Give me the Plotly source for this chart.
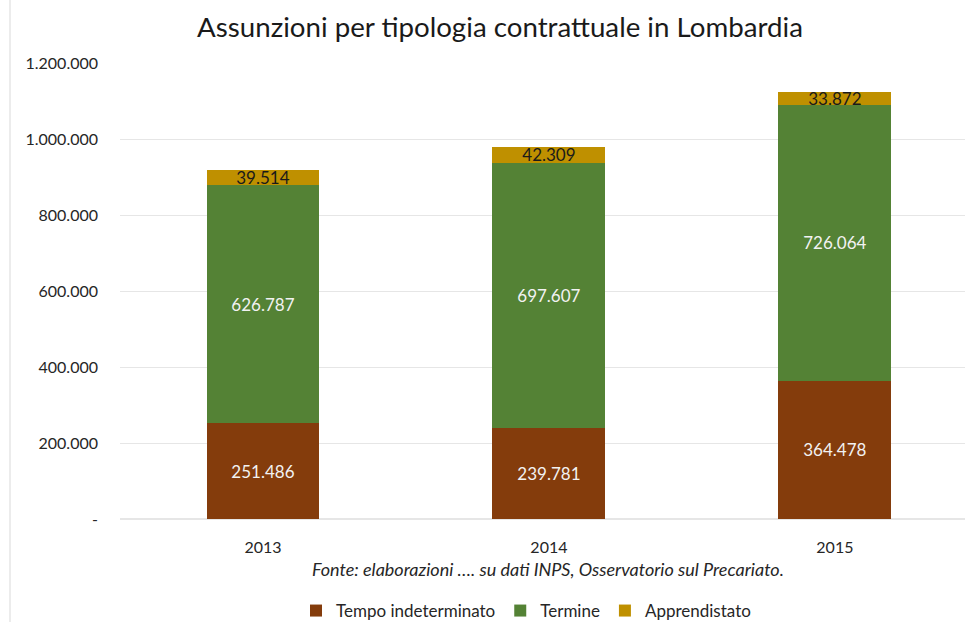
import plotly.graph_objects as go

years = ["2013", "2014", "2015"]
tempo_indeterminato = [251486, 239781, 364478]
termine = [626787, 697607, 726064]
apprendistato = [39514, 42309, 33872]

ytick_vals = [0, 200000, 400000, 600000, 800000, 1000000, 1200000]
ytick_text = ["-", "200.000", "400.000", "600.000", "800.000", "1.000.000", "1.200.000"]

FONT = "Lato"

series = [
    ("Tempo indeterminato", tempo_indeterminato, "#843C0C", "#F2F2F2"),
    ("Termine", termine, "#548235", "#F2F2F2"),
    ("Apprendistato", apprendistato, "#BF9000", "#1A1A1A"),
]

fig = go.Figure()
for name, vals, color, tcolor in series:
    fig.add_trace(go.Bar(
        name=name, x=years, y=vals,
        marker=dict(color=color, line=dict(width=0)),
        texttemplate="%{y:,}", textposition="inside",
        insidetextanchor="middle", constraintext="none",
        textfont=dict(family=FONT, size=17, color=tcolor),
        cliponaxis=False,
    ))

fig.update_layout(
    barmode="stack",
    bargap=0.605,
    width=965, height=622,
    margin=dict(l=120, r=0, t=63, b=103, autoexpand=False),
    paper_bgcolor="white", plot_bgcolor="white",
    separators=",.",
    font=dict(family=FONT, size=14, color="#404040"),
    title=dict(text="Assunzioni per tipologia contrattuale in Lombardia",
               x=(500 / 965), xref="container", xanchor="center", y=1 - 27 / 622, yanchor="middle",
               font=dict(family=FONT, size=27.7, color="#1A1A1A")),
    showlegend=True,
    legend=dict(orientation="h", x=(526 - 120) / 845, xanchor="center",
                y=(519 - 611) / 456, yanchor="middle",
                traceorder="normal", font=dict(family=FONT, size=17, color="#262626"),
                itemwidth=30, itemsizing="constant"),
    xaxis=dict(range=[-0.5, 2.455], showgrid=False, zeroline=False, showline=False,
               ticks="", ticklabelstandoff=17,
               tickfont=dict(family=FONT, size=16, color="#262626")),
    yaxis=dict(range=[0, 1200000], tickvals=ytick_vals, ticktext=ytick_text,
               showgrid=True, gridcolor="#E6E6E6", gridwidth=1,
               zeroline=True, zerolinecolor="#E6E6E6", showline=False,
               ticks="", ticklabelstandoff=21,
               tickfont=dict(family=FONT, size=16, color="#262626")),
    annotations=[dict(text="<i>Fonte: elaborazioni …. su dati INPS, Osservatorio sul Precariato.</i>",
                      xref="paper", yref="paper", x=(548 - 120) / 845, y=(519 - 569) / 456,
                      xanchor="center", yanchor="middle", showarrow=False,
                      font=dict(family=FONT, size=18, color="#262626"))],
    shapes=[dict(type="line", xref="paper", yref="paper",
                 x0=(10 - 120) / 845, x1=(10 - 120) / 845, y0=(519 - 622) / 456, y1=519 / 456,
                 line=dict(color="#D9D9D9", width=1))],
)

fig.write_html("out.html", config={"displayModeBar": False},
               post_script="document.body.style.margin='0';document.body.style.overflow='hidden';")
